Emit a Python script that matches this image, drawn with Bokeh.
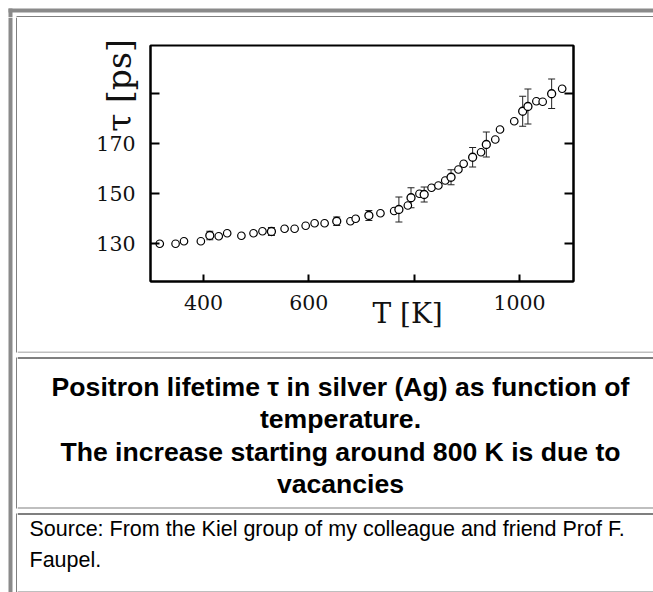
from bokeh.plotting import figure
from bokeh.layouts import column, row
from bokeh.models import (ColumnDataSource, Whisker, LinearAxis, FixedTicker,
                          Range1d, TeeHead)
from bokeh.core.properties import value
from bokeh.embed import file_html
from bokeh.resources import INLINE

# ---------------- data ----------------
temp_K = [317, 347, 363, 395, 429, 445, 472, 495, 512, 554, 573, 594, 611, 630,
          679, 689, 736, 762, 788, 810, 833, 846, 859, 884, 894, 927, 954, 963,
          990, 1032, 1044, 1081]
tau_ps = [129.9, 129.9, 130.9, 130.9, 132.9, 134.1, 133.1, 134.1, 134.9, 135.9,
          135.9, 137.1, 138.1, 138.1, 138.9, 139.9, 142.1, 143.0, 145.2, 149.9,
          152.3, 153.2, 155.2, 159.6, 161.9, 166.5, 171.6, 175.6, 178.9, 186.9,
          186.7, 191.9]

err_temp_K = [412, 529, 653, 714, 771, 794, 819, 870, 911, 937, 1006, 1016, 1061]
err_tau_ps = [133.2, 134.8, 138.9, 141.2, 143.6, 148.3, 149.6, 156.5, 164.5,
              169.6, 182.9, 184.8, 189.9]
err_ps = [1.7, 1.6, 1.7, 2.0, 5.0, 4.0, 3.0, 3.0, 3.9, 5.0, 6.0, 7.0, 5.9]

x_ticks = [400, 600, 800, 1000]
x_tick_labels = {400: "400", 600: "600", 800: "", 1000: "1000"}
y_ticks = [130, 150, 170, 190]
y_tick_labels = {130: "130", 150: "150", 170: "170", 190: ""}
x_title = {796: "T  [K]"}          # printed in place of the 800 label
y_title = {193.2: "\u03c4 [ps]"}   # printed in place of the 190 label

caption_lines = ["Positron lifetime \u03c4 in silver (Ag) as function of",
                 "temperature.",
                 "The increase starting around 800 K is due to",
                 "vacancies"]
source_lines = ["Source: From the Kiel group of my colleague and friend Prof F.",
                "Faupel."]

SERIF = "DejaVu Serif"
SANS = "Liberation Sans"
GRAY_BAND = "#8a8a8a"
GRAY_LINE = "#808080"


def no_align(f):
    if "frame_align" in f.properties():
        f.frame_align = False


def deco_fig(w, h):
    f = figure(width=w, height=h, output_backend="svg", toolbar_location=None,
               x_range=Range1d(0, w), y_range=Range1d(h, 0), min_border=0,
               x_axis_location=None, y_axis_location=None,
               background_fill_color="white", border_fill_color="white")
    f.outline_line_color = None
    for g in f.grid:
        g.visible = False
    no_align(f)
    return f


# ---------------- top strip (page y 0..17) ----------------
top = deco_fig(653, 17)
top.quad(left=[8, 8, 16], right=[653, 12, 653], top=[8, 8, 16], bottom=[12, 17, 17],
         fill_color=[GRAY_BAND, GRAY_BAND, "black"], line_color=None)

# ---------------- left strip (page x 0..17, y 17..592) ----------------
left = deco_fig(17, 575)
left.quad(left=[8, 16, 16, 16], right=[12, 17, 17, 17],
          top=[0, 0, 340, 496], bottom=[575, 335, 491, 575],
          fill_color=[GRAY_BAND, "black", "black", "black"], line_color=None)

# ---------------- chart (page x 17..653, y 17..351) ----------------
p = figure(width=636, height=334, output_backend="svg", toolbar_location=None,
           x_range=Range1d(299.4, 1102.5), y_range=Range1d(114.8, 209.2),
           min_border_left=133, min_border_right=80, min_border_top=28,
           min_border_bottom=70, background_fill_color="white",
           border_fill_color="white")
p.grid.visible = False
p.outline_line_color = "black"
p.outline_line_width = 2
no_align(p)


def style_axis(ax, tick_in, size="20.5px", standoff=15):
    ax.axis_line_width = 2
    ax.axis_line_color = "black"
    ax.major_tick_in = tick_in
    ax.major_tick_out = 0
    ax.major_tick_line_width = 2
    ax.major_tick_line_color = "black"
    ax.minor_tick_line_color = None
    ax.major_label_text_font = SERIF
    ax.major_label_text_font_size = size
    ax.major_label_text_color = "#111111"
    ax.major_label_standoff = standoff


def title_axis(ticks_labels, size, standoff, orientation="horizontal"):
    ax = LinearAxis(ticker=FixedTicker(ticks=list(ticks_labels)),
                    major_label_overrides=ticks_labels)
    ax.axis_line_color = None
    ax.major_tick_line_color = None
    ax.minor_tick_line_color = None
    ax.major_label_text_font = SERIF
    ax.major_label_text_font_size = size
    ax.major_label_text_color = "#111111"
    ax.major_label_standoff = standoff
    ax.major_label_orientation = orientation
    return ax


xa = p.xaxis[0]
xa.ticker = FixedTicker(ticks=x_ticks)
xa.major_label_overrides = x_tick_labels
style_axis(xa, 7, standoff=13)

ya = p.yaxis[0]
ya.ticker = FixedTicker(ticks=y_ticks)
ya.major_label_overrides = y_tick_labels
style_axis(ya, 9, standoff=15)

ra = LinearAxis(ticker=FixedTicker(ticks=y_ticks),
                major_label_overrides={t: "" for t in y_ticks})
style_axis(ra, 9)
p.add_layout(ra, "right")

p.add_layout(title_axis(x_title, "28px", -22), "below")
p.add_layout(title_axis(y_title, "33px", -51, "vertical"), "left")

# error bars
esrc = ColumnDataSource(dict(x=err_temp_K,
                             lower=[t - e for t, e in zip(err_tau_ps, err_ps)],
                             upper=[t + e for t, e in zip(err_tau_ps, err_ps)]))
wh = Whisker(source=esrc, base="x", lower="lower", upper="upper", dimension="height",
             line_color="#222222", line_width=1, level="underlay",
             upper_head=TeeHead(size=7, line_color="#222222", line_width=1),
             lower_head=TeeHead(size=7, line_color="#222222", line_width=1))
p.add_layout(wh)

# points
p.scatter(temp_K, tau_ps, marker="circle", size=7.5, fill_color="white",
          line_color="black", line_width=1.2)
p.scatter(err_temp_K, err_tau_ps, marker="circle", size=8, fill_color="white",
          line_color="black", line_width=1.3)

# ---------------- caption boxes (page x 17..653, y 351..592) ----------------
cap = deco_fig(636, 241)
cap.quad(left=[0, 0, 0, 0, 0], right=[636] * 5,
         top=[0, 6, 156, 162, 240], bottom=[1, 7, 157, 163, 241],
         fill_color=[GRAY_LINE, "black", GRAY_LINE, "black", GRAY_LINE],
         line_color=None)
cap.text(x=[323] * len(caption_lines), y=[35 + 32.5 * i for i in range(len(caption_lines))],
         text=caption_lines, text_font=value(SANS), text_font_style="bold",
         text_font_size="26.6px", text_align="center", text_baseline="alphabetic",
         text_color="black")
cap.text(x=[12] * len(source_lines), y=[177 + 31 * i for i in range(len(source_lines))],
         text=source_lines, text_font=value(SANS), text_font_size="21.5px",
         text_align="left", text_baseline="alphabetic", text_color="black")

layout = column(top, row(left, column(row(p), row(cap))))

open("out.html", "w").write(file_html(layout, INLINE))
